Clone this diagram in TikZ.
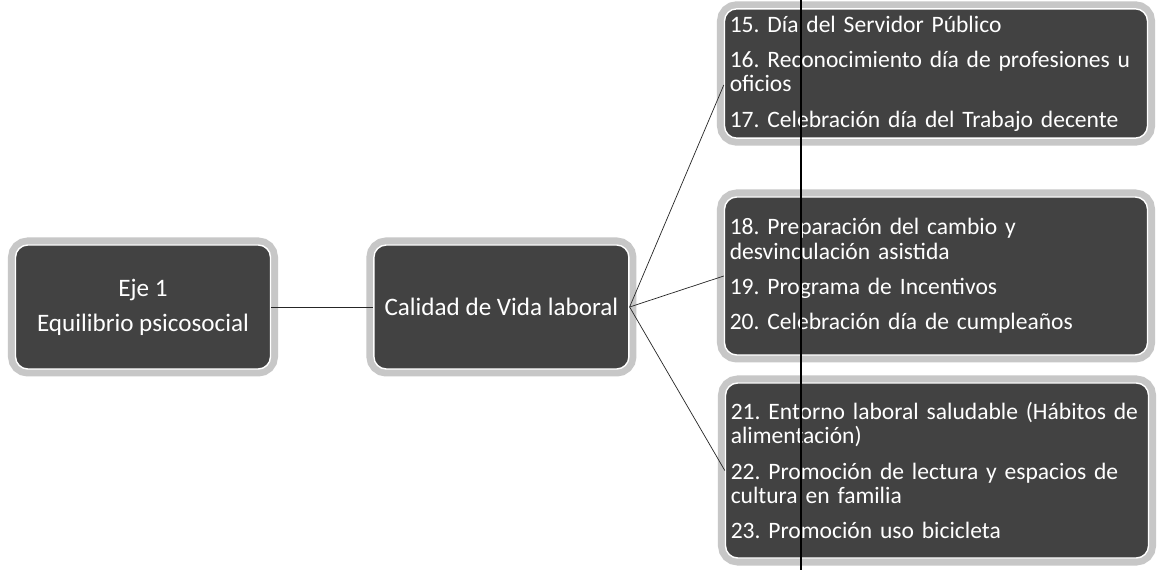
\documentclass[tikz,border=0pt]{standalone}
\usepackage{fontspec}
\setmainfont{Carlito}
\frenchspacing
\hyphenpenalty=10000
\usetikzlibrary{positioning}

\tikzset{
  box/.style={rounded corners=7pt, fill=black!74, draw=white, line width=0.8pt,
    text=white, inner sep=4pt,
    preaction={draw=black!22, line width=0.3cm}},
  headbox/.style={box, align=center, minimum width=5.1cm, minimum height=2.48cm,
    font=\fontsize{14.3}{20}\selectfont},
  itembox/.style={box, align=left, text width=8.25cm, inner xsep=3pt,
    font=\fontsize{13.4}{14}\selectfont},
  link/.style={thin, black!85}
}

\begin{document}
\begin{tikzpicture}
\fill[white] (0,0) rectangle (23.3,11.4);
\useasboundingbox (0,0) rectangle (23.3,11.4);
% left part
\node[headbox] (eje) at (2.86,5.26) {Eje 1\\Equilibrio psicosocial};
\node[headbox, right=2.04cm of eje] (calidad) {Calidad de Vida laboral};
% activity boxes
\node[itembox, minimum height=2.54cm] (servidor) at (18.72,9.93)
  {15. Día del Servidor Público\\[6pt]
   16. Reconocimiento día de profesiones u\\oficios\\[6pt]
   17. Celebración día del Trabajo decente};
\node[itembox, minimum height=3.16cm] (cambio) at (18.72,5.88)
  {18. Preparación del cambio y\\desvinculación asistida\\[6pt]
   19. Programa de Incentivos\\[6pt]
   20. Celebración día de cumpleaños};
\node[itembox, minimum height=3.5cm] (entorno) at (18.74,1.99)
  {21. Entorno laboral saludable (Hábitos de\\alimentación)\\[6pt]
   22. Promoción de lectura y espacios de\\cultura en familia\\[6pt]
   23. Promoción uso bicicleta};
% connectors
\draw[link] (eje) -- (calidad);
\draw[link] (calidad.east) -- ([yshift=-0.23cm]servidor.west);
\draw[link] (calidad.east) -- (cambio.west);
\draw[link] (calidad.east) -- (entorno.west);
% fold line of the sheet
\coordinate (fold top) at (16.02,11.4);
\coordinate (fold bottom) at (16.02,0);
\draw[line width=0.8pt] (fold top) -- (fold bottom);
\end{tikzpicture}
\end{document}
